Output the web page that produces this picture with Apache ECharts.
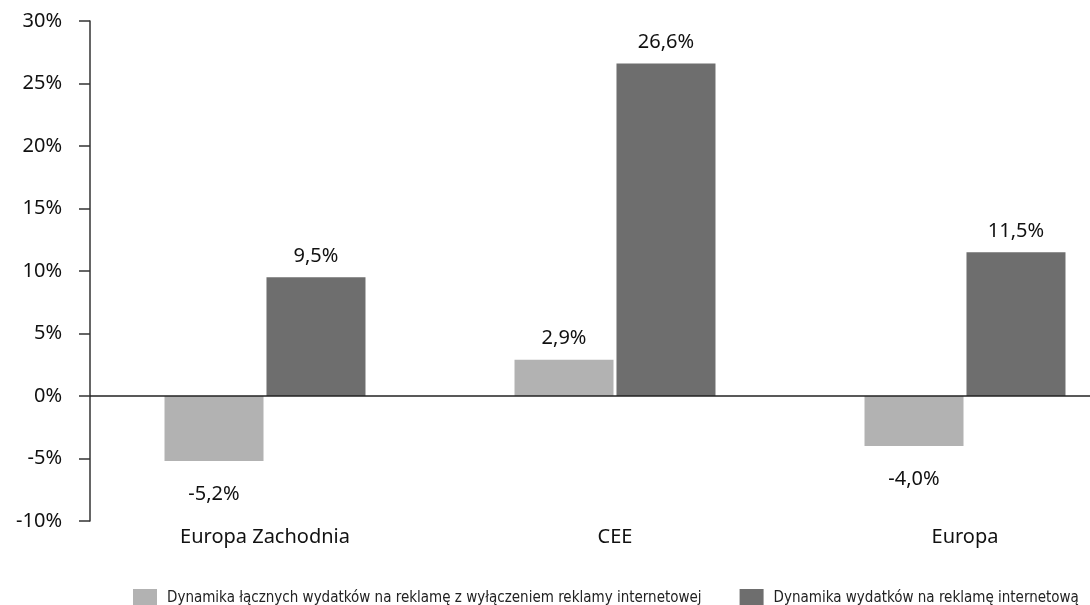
<!DOCTYPE html>
<html>
<head>
<meta charset="utf-8">
<script src="https://cdn.jsdelivr.net/npm/echarts@6/dist/echarts.min.js"></script>
<style>
  html, body { margin: 0; padding: 0; background: #fff; }
  #chart { width: 1090px; height: 605px; }
</style>
</head>
<body>
<div id="chart"></div>
<script>
// Regions compared
const categories = ['Europa Zachodnia', 'CEE', 'Europa'];
// Year-on-year change in ad spend, in percent
const offlineChange = [-5.2, 2.9, -4.0];
const onlineChange = [9.5, 26.6, 11.5];
const seriesNames = [
  'Dynamika łącznych wydatków na reklamę z wyłączeniem reklamy internetowej',
  'Dynamika wydatków na reklamę internetową'
];
const yTicks = { min: -10, max: 30, step: 5 };

const fmtPct = v => String(v.toFixed(1)).replace('.', ',') + '%';
const mainFont = 'Noto Sans';
const mainSize = 20;

const chart = echarts.init(document.getElementById('chart'));

function barLabel() {
  return {
    show: true,
    position: 'top',
    distance: 11,
    fontFamily: mainFont,
    fontSize: mainSize,
    color: '#111',
    formatter: p => fmtPct(p.value)
  };
}

// negative values carry their label underneath the bar
function makeData(values) {
  return values.map(v => ({
    value: v,
    label: v < 0 ? { position: 'bottom', distance: 23 } : {}
  }));
}

chart.setOption({
  animation: false,
  backgroundColor: '#fff',
  grid: { left: 90, top: 21, width: 1050, height: 500, containLabel: false, outerBoundsMode: 'none' },
  legend: {
    left: 128,
    top: 584,
    itemWidth: 24,
    itemHeight: 19,
    itemGap: 38,
    icon: 'rect',
    textStyle: { fontFamily: 'DejaVu Sans Condensed', fontSize: 15, color: '#222', padding: [0, 0, 0, 5] },
    data: seriesNames
  },
  xAxis: {
    type: 'category',
    data: categories,
    axisLine: { show: false, onZero: false },
    axisTick: { show: false },
    axisLabel: { fontFamily: mainFont, fontSize: mainSize, color: '#111', margin: 6 }
  },
  yAxis: {
    type: 'value',
    min: yTicks.min,
    max: yTicks.max,
    interval: yTicks.step,
    axisLine: { show: true, lineStyle: { color: '#333', width: 1.5 } },
    axisTick: { show: true, inside: false, length: 11, lineStyle: { color: '#333', width: 1.5 } },
    axisLabel: { fontFamily: mainFont, fontSize: mainSize, color: '#111', margin: 28, formatter: v => v + '%' },
    splitLine: { show: false }
  },
  series: [
    {
      name: seriesNames[0],
      type: 'bar',
      barWidth: 99,
      barGap: '3%',
      itemStyle: { color: '#b2b2b2' },
      label: barLabel(),
      data: makeData(offlineChange),
      markLine: {
        silent: true,
        symbol: 'none',
        label: { show: false },
        lineStyle: { color: '#222', width: 1.5, type: 'solid' },
        data: [{ yAxis: 0 }]
      }
    },
    {
      name: seriesNames[1],
      type: 'bar',
      barWidth: 99,
      barGap: '3%',
      itemStyle: { color: '#6e6e6e' },
      label: barLabel(),
      data: makeData(onlineChange)
    }
  ]
});
</script>
</body>
</html>
